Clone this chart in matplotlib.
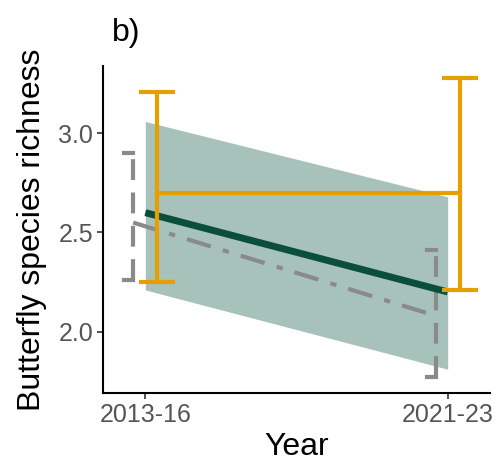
import matplotlib.pyplot as plt

plt.rcParams['font.family'] = ['Liberation Sans', 'DejaVu Sans']

years = ['2013-16', '2021-23']
x = [0, 1]

# model fit with confidence ribbon
fit = [2.60, 2.20]
fit_lo = [2.21, 1.81]
fit_hi = [3.06, 2.68]

# observed means (orange) with error bars
obs_mean = [2.70, 2.70]
obs_lo = [2.25, 2.21]
obs_hi = [3.21, 3.28]

# second group (grey, dash-dot)
grey_mean = [2.55, 2.08]
grey_lo = [2.26, 1.77]
grey_hi = [2.90, 2.41]

orange = '#E69F00'
green = '#0B4F3A'
grey = '#8A8A8A'
dodge = 0.04

fig = plt.figure(figsize=(4.97, 4.71), dpi=100)
ax = fig.add_axes([103 / 497, 78 / 471, 387 / 497, 327 / 471])

ax.fill_between(x, fit_lo, fit_hi, color='#A7C2BB', lw=0, zorder=1)

gx = [v - dodge for v in x]
ax.plot(gx, grey_mean, color=grey, lw=3, dashes=(6, 3, 1.5, 3), zorder=2)
ebg = ax.errorbar(gx, grey_mean,
                  yerr=[[m - l for m, l in zip(grey_mean, grey_lo)],
                        [h - m for m, h in zip(grey_mean, grey_hi)]],
                  fmt='none', ecolor=grey, elinewidth=3, capsize=0, zorder=2)
ebg[2][0].set_linestyle((0, (5, 3)))
for xi, lo, hi in zip(gx, grey_lo, grey_hi):
    ax.plot([xi - 0.03, xi], [lo, lo], color=grey, lw=3, zorder=2)
    ax.plot([xi - 0.03, xi], [hi, hi], color=grey, lw=3, zorder=2)

ax.plot(x, fit, color=green, lw=5, zorder=3, solid_capstyle='butt')

ox = [v + dodge for v in x]
ax.plot(ox, obs_mean, color=orange, lw=3, zorder=4)
ax.errorbar(ox, obs_mean,
            yerr=[[m - l for m, l in zip(obs_mean, obs_lo)],
                  [h - m for m, h in zip(obs_mean, obs_hi)]],
            fmt='none', ecolor=orange, elinewidth=3, capsize=13, capthick=3, zorder=4)

ax.set_xlim(-0.14, 1.14)
ax.set_ylim(1.69, 3.34)
ax.set_xticks(x)
ax.set_xticklabels(years)
ax.set_yticks([2.0, 2.5, 3.0])
ax.set_yticklabels(['2.0', '2.5', '3.0'])
ax.tick_params(colors='#333333', labelcolor='#555555', labelsize=18,
               length=4, width=1.2, pad=3)
for side in ['top', 'right']:
    ax.spines[side].set_visible(False)
for side in ['left', 'bottom']:
    ax.spines[side].set_linewidth(1.5)
    ax.spines[side].set_color('black')

ax.set_xlabel('Year', fontsize=23, labelpad=4)
ax.set_ylabel('Butterfly species richness', fontsize=23, labelpad=8)
fig.text(112 / 497, 1 - 33 / 471, 'b)', fontsize=23, va='center', ha='left')

fig.savefig('out.png', dpi=100)
